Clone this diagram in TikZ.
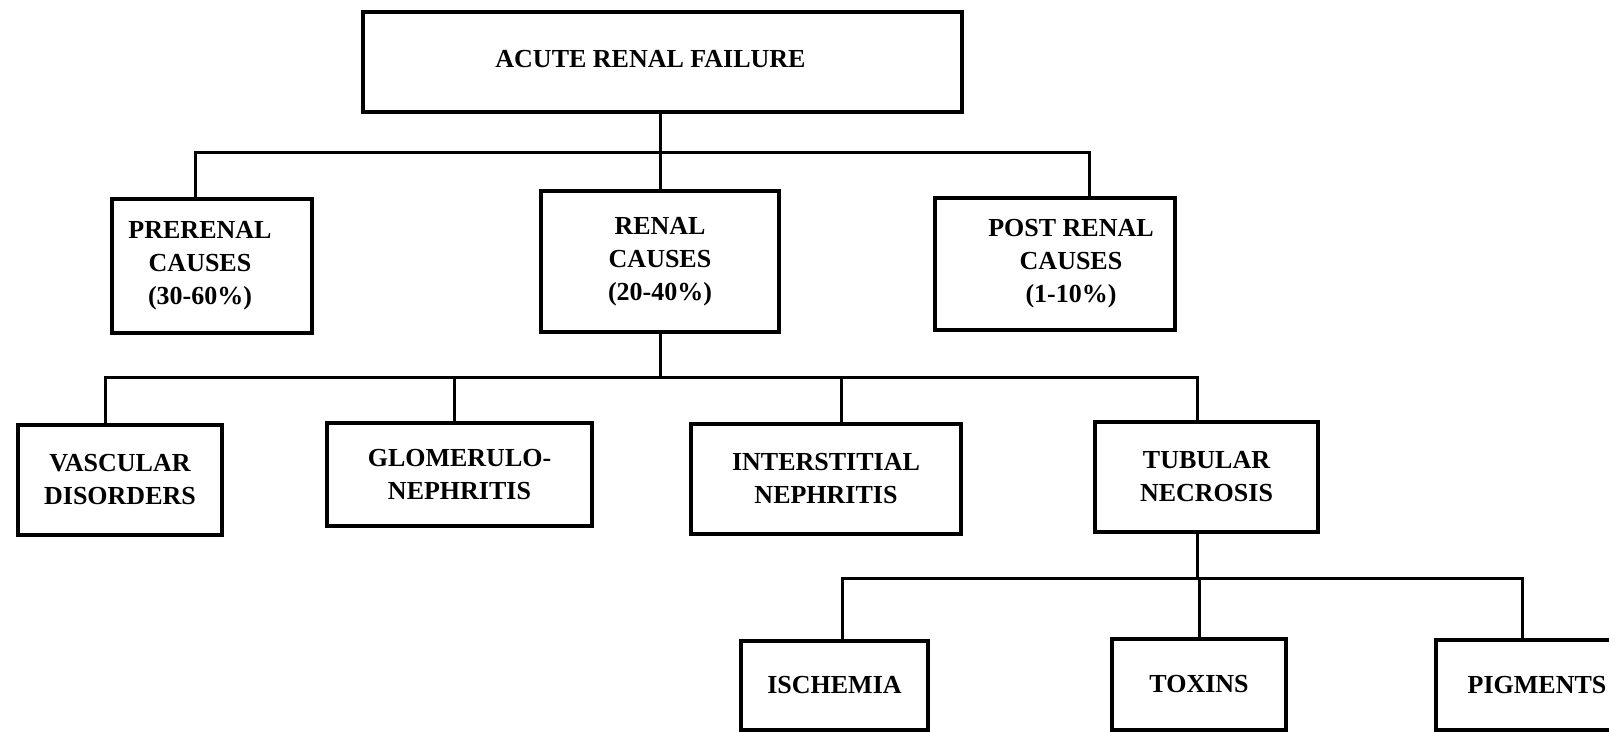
\documentclass[tikz,border=0pt]{standalone}
\usepackage{fontspec}
\setmainfont{Liberation Serif}
\tikzset{
	box/.style={draw, line width=1.7pt, inner sep=0pt, align=center, font=\fontsize{13pt}{16.5pt}\selectfont\bfseries},
	link/.style={line width=1.5pt}
}
\begin{document}
\begin{tikzpicture}[x=0.5pt, y=-0.5pt]
	\useasboundingbox (0,0) rectangle (1609,732);
	\clip (0,0) rectangle (1609,732);
	% boxes
	\node[box, minimum width=299.5pt, minimum height=50pt] (arf) at (662.5,62) {\raisebox{3.5pt}{ACUTE RENAL FAILURE}\kern12pt};
	\node[box, minimum width=100pt, minimum height=67pt] (prerenal) at (212,266) {PRERENAL\kern12pt\\CAUSES\kern12pt\\(30-60\%)\kern12pt};
	\node[box, minimum width=119pt, minimum height=70.5pt] (renal) at (660,261.5) {RENAL\\CAUSES\\(20-40\%)};
	\node[box, minimum width=120pt, minimum height=66pt] (postrenal) at (1055,264) {\kern16pt POST RENAL\\\kern16pt CAUSES\\\kern16pt (1-10\%)};
	\node[box, minimum width=102pt, minimum height=55pt] (vascular) at (120,480) {VASCULAR\\DISORDERS};
	\node[box, minimum width=132.5pt, minimum height=51.5pt] (glomerulo) at (459.5,474.5) {GLOMERULO-\\NEPHRITIS};
	\node[box, minimum width=135pt, minimum height=55pt] (interstitial) at (826,479) {INTERSTITIAL\\NEPHRITIS};
	\node[box, minimum width=111.5pt, minimum height=55pt] (tubular) at (1206.5,477) {TUBULAR\\NECROSIS};
	\node[box, minimum width=93.5pt, minimum height=44.5pt] (ischemia) at (834.5,685.5) {ISCHEMIA};
	\node[box, minimum width=87pt, minimum height=45.5pt] (toxins) at (1199,684.5) {TOXINS};
	\node[box, minimum width=101pt, minimum height=45pt] (pigments) at (1537,685) {PIGMENTS};
	% bus lines
	\coordinate (bus1) at (660,153);
	\coordinate (bus2) at (660,377);
	\coordinate (bus3) at (1197,578);
	\draw[link] (arf.south -| renal.north) -- (renal.north);
	\draw[link] ([xshift=-8.5pt]prerenal.north) |- (bus1) -| ([xshift=17pt]postrenal.north);
	\draw[link] (renal.south) -- (bus2);
	\foreach \child/\dx in {vascular/-7.5pt, glomerulo/-2.75pt, interstitial/7.5pt, tubular/-4.75pt}
		\draw[link] ([xshift=\dx]\child.north) |- (bus2);
	\draw[link] ([xshift=-4.75pt]tubular.south) -- (bus3);
	\foreach \child/\dx in {ischemia/3.75pt, toxins/0pt, pigments/-7.5pt}
		\draw[link] ([xshift=\dx]\child.north) |- (bus3);
\end{tikzpicture}
\end{document}
